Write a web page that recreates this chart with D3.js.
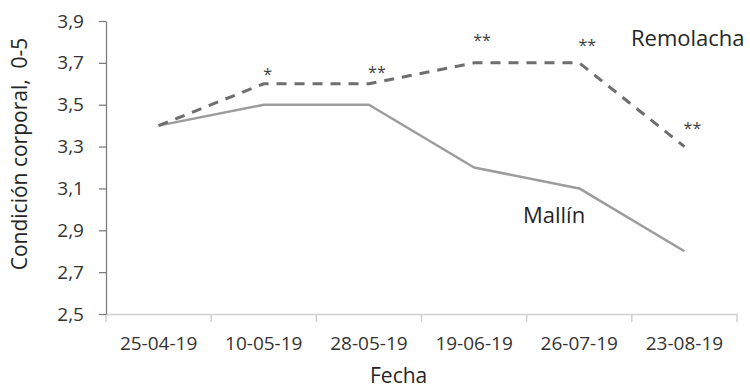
<!DOCTYPE html>
<html>
<head>
<meta charset="utf-8">
<script src="https://cdn.jsdelivr.net/npm/d3@7"></script>
<style>
  body { margin: 0; background: #fff; }
  text { font-family: "Open Sans", sans-serif; fill: #262626; }
</style>
</head>
<body>
<div class="chart"></div>
<script>
// data
var fechas = ["25-04-19", "10-05-19", "28-05-19", "19-06-19", "26-07-19", "23-08-19"];
var mallin = [3.4, 3.5, 3.5, 3.2, 3.1, 2.8];
var remolacha = [3.4, 3.6, 3.6, 3.7, 3.7, 3.3];
var yTicks = [2.5, 2.7, 2.9, 3.1, 3.3, 3.5, 3.7, 3.9];
// significance marks above the Remolacha line (label centre, in axis units)
var sigLabels = ["", "*", "**", "**", "**", "**"];
var sigAt = [null, 3.662, 3.671, 3.824, 3.8, 3.405];

var svgWidth = 750;
var svgHeight = 389;

var margin = { top: 21, right: 13, bottom: 75, left: 106 };
var width = svgWidth - margin.left - margin.right;
var height = svgHeight - margin.top - margin.bottom;

var svg = d3.select(".chart")
  .append("svg")
  .attr("width", svgWidth)
  .attr("height", svgHeight);

var chartGroup = svg.append("g")
  .attr("transform", `translate(${margin.left}, ${margin.top})`);

var xBand = d3.scaleBand()
  .domain(fechas)
  .range([0, width]);

var yLinearScale = d3.scaleLinear()
  .domain([2.5, 3.9])
  .range([height, 0]);

var xMid = function(i) { return xBand(fechas[i]) + xBand.bandwidth() / 2; };

// x axis: labels at band centres, ticks between categories
var xAxis = chartGroup.append("g")
  .attr("transform", `translate(0, ${height})`)
  .call(d3.axisBottom(xBand).tickSize(0).tickPadding(23));
xAxis.select(".domain").attr("stroke", "#d0d0d0").attr("stroke-width", 1.5);
xAxis.selectAll("text")
  .style("font-size", "19px")
  .style("fill", "#333");

var edges = fechas.map(function(f) { return xBand(f); }).concat([width]);
xAxis.selectAll(".edge")
  .data(edges)
  .enter()
  .append("line")
  .attr("x1", d => d)
  .attr("x2", d => d)
  .attr("y1", 0)
  .attr("y2", 8)
  .attr("stroke", "#d0d0d0")
  .attr("stroke-width", 1.5);

// y axis
var yAxis = chartGroup.append("g")
  .call(d3.axisLeft(yLinearScale)
    .tickValues(yTicks)
    .tickSize(7)
    .tickSizeOuter(0)
    .tickPadding(15)
    .tickFormat(d => d3.format(".1f")(d).replace(".", ",")));
yAxis.select(".domain").attr("stroke", "#7f7f7f").attr("stroke-width", 1.3);
yAxis.selectAll(".tick line").attr("stroke", "#7f7f7f").attr("stroke-width", 1.3);
yAxis.selectAll("text")
  .style("font-size", "19px")
  .style("fill", "#333");

var line = function(vals) {
  return d3.line()
    .x((d, i) => xMid(i))
    .y(d => yLinearScale(d))(vals);
};

// Mallín solid
chartGroup.append("path")
  .attr("d", line(mallin))
  .attr("fill", "none")
  .attr("stroke", "#9c9c9c")
  .attr("stroke-width", 2.5)
  .attr("stroke-linejoin", "round");

// Remolacha dashed
chartGroup.append("path")
  .attr("d", line(remolacha))
  .attr("fill", "none")
  .attr("stroke", "#6e6e6e")
  .attr("stroke-width", 3)
  .attr("stroke-dasharray", "10,8");

// significance asterisks
sigLabels.forEach(function(s, i) {
  if (!s) return;
  chartGroup.append("text")
    .attr("x", xMid(i) + (s.length === 1 ? 4 : 8))
    .attr("y", yLinearScale(sigAt[i]) + 9)
    .attr("text-anchor", "middle")
    .style("font-size", "16px")
    .style("fill", "#404040")
    .text(s);
});

// series names
svg.append("text")
  .attr("x", 631)
  .attr("y", 46)
  .style("font-size", "22px")
  .text("Remolacha");

svg.append("text")
  .attr("x", 523)
  .attr("y", 223)
  .style("font-size", "22px")
  .text("Mallín");

// axis titles
svg.append("text")
  .attr("x", 370)
  .attr("y", 383)
  .style("font-size", "21px")
  .text("Fecha");

svg.append("text")
  .attr("transform", "rotate(-90)")
  .attr("x", -154)
  .attr("y", 27)
  .attr("text-anchor", "middle")
  .style("font-size", "21px")
  .style("white-space", "pre")
  .text("Condición corporal,  0-5");
</script>
</body>
</html>
